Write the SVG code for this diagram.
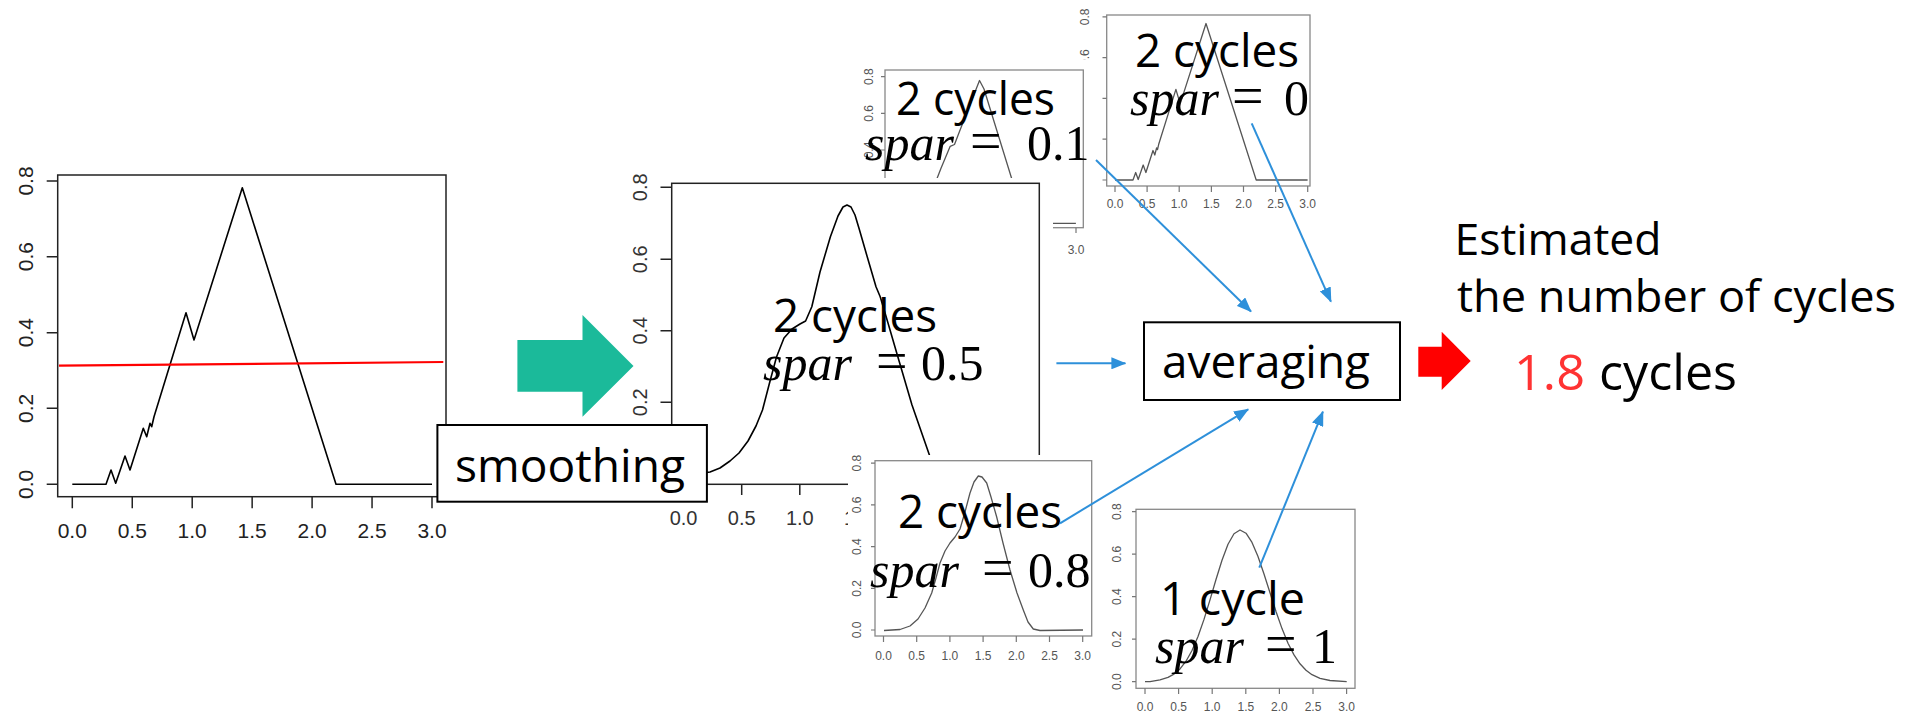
<svg xmlns="http://www.w3.org/2000/svg" width="1917" height="714" viewBox="0 0 1917 714">
<defs>
<style>
.bg{fill:#fff;stroke:none}
.box{fill:none;stroke:#222;stroke-width:1.5}
.sbox{fill:none;stroke:#888;stroke-width:1.3}
.tk{fill:none;stroke:#222;stroke-width:1.5}
.stk{fill:none;stroke:#777;stroke-width:1.2}
.crv{fill:none;stroke:#000;stroke-width:1.6;stroke-linejoin:round}
.scrv{fill:none;stroke:#555;stroke-width:1.3;stroke-linejoin:round}
.tl{font-family:"Liberation Sans",Arial,sans-serif;font-size:21px;fill:#222;text-anchor:middle}
.tm{font-family:"Liberation Sans",Arial,sans-serif;font-size:20px;fill:#333;text-anchor:middle}
.ts{font-family:"Liberation Sans",Arial,sans-serif;font-size:12px;fill:#555;text-anchor:middle}
.lbl{font-family:"Open Sans","Noto Sans",sans-serif;font-size:45px;fill:#000}
.big{font-size:50px}
.mid{font-size:44px}
.red{fill:#ff3333}
.math{font-family:"Liberation Serif","DejaVu Serif",serif;font-size:50px;fill:#000}
.it{font-style:italic}
.eq{font-size:56px}
.node{fill:#fff;stroke:#000;stroke-width:2}
.conn{fill:none;stroke:#2E90DA;stroke-width:2}
</style>
<marker id="ah" markerWidth="15" markerHeight="12" refX="14" refY="6" orient="auto" markerUnits="userSpaceOnUse">
<path d="M0,0 L15,6 L0,12 z" fill="#2E90DA"/>
</marker>
</defs>

<!-- Raw data plot -->
<g id="plot-raw">
<rect class="box" x="57.7" y="175" width="388.3" height="321.7"/>
<path class="tk" d="M46.7,181H57.7M46.7,256.7H57.7M46.7,332.7H57.7M46.7,408.3H57.7M46.7,484.3H57.7"/>
<path class="tk" d="M72.3,496.7V508.3M132.25,496.7V508.3M192.2,496.7V508.3M252.15,496.7V508.3M312.1,496.7V508.3M372.05,496.7V508.3M432,496.7V508.3"/>
<text class="tl" x="72.3" y="538.3">0.0</text>
<text class="tl" x="132.25" y="538.3">0.5</text>
<text class="tl" x="192.2" y="538.3">1.0</text>
<text class="tl" x="252.15" y="538.3">1.5</text>
<text class="tl" x="312.1" y="538.3">2.0</text>
<text class="tl" x="372.05" y="538.3">2.5</text>
<text class="tl" x="432" y="538.3">3.0</text>
<text class="tl" transform="translate(33,484.3) rotate(-90)">0.0</text>
<text class="tl" transform="translate(33,408.3) rotate(-90)">0.2</text>
<text class="tl" transform="translate(33,332.7) rotate(-90)">0.4</text>
<text class="tl" transform="translate(33,256.7) rotate(-90)">0.6</text>
<text class="tl" transform="translate(33,181) rotate(-90)">0.8</text>
<polyline class="crv" points="72.3,484.3 106,484.3 111,470 115.7,483.3 125,456 130,470 143.3,428.3 146.7,436.7 150,423.3 151.7,426.7 154,416.7 186,312.7 194,340 242.3,187.7 336,484.3 432,484.3"/>
<line x1="59" y1="365.7" x2="443.3" y2="362" stroke="#ff0000" stroke-width="2.2"/>
</g>

<!-- spar = 0 plot -->
<g id="plot-spar0">
<rect class="sbox" x="1106.7" y="15" width="203.3" height="171"/>
<path class="stk" d="M1115,186V192M1147.1,186V192M1179.2,186V192M1211.4,186V192M1243.5,186V192M1275.6,186V192M1307.7,186V192"/>
<path class="stk" d="M1102.5,180H1106.7M1102.5,139.2H1106.7M1102.5,98.4H1106.7M1102.5,57.6H1106.7M1102.5,16.8H1106.7"/>
<text class="ts" x="1115" y="207.5">0.0</text>
<text class="ts" x="1147.1" y="207.5">0.5</text>
<text class="ts" x="1179.2" y="207.5">1.0</text>
<text class="ts" x="1211.4" y="207.5">1.5</text>
<text class="ts" x="1243.5" y="207.5">2.0</text>
<text class="ts" x="1275.6" y="207.5">2.5</text>
<text class="ts" x="1307.7" y="207.5">3.0</text>
<text class="ts" transform="translate(1089,57.6) rotate(-90)">0.6</text>
<text class="ts" transform="translate(1089,16.8) rotate(-90)">0.8</text>
<polyline class="scrv" points="1115,180 1133,180 1135.7,172.5 1138.2,179.5 1143.2,165 1145.9,172.5 1153,150.5 1154.8,155 1156.6,147.8 1157.5,149.6 1158.7,144.3 1175.9,89.4 1180.2,103.9 1206,23.5 1256.2,180 1307.6,180"/>
</g>

<!-- spar = 0.1 plot -->
<g id="plot-spar01">
<rect class="bg" x="858" y="60" width="237" height="202"/>
<rect class="sbox" x="885" y="70" width="198.3" height="157.7"/>
<path class="stk" d="M892,227.7V233M922.7,227.7V233M953.3,227.7V233M984,227.7V233M1014.7,227.7V233M1045.3,227.7V233M1076,227.7V233"/>
<path class="stk" d="M881,223.3H885M881,186.65H885M881,150H885M881,113.35H885M881,76.7H885"/>
<text class="ts" x="1076" y="254">3.0</text>
<text class="ts" transform="translate(872.5,150) rotate(-90)">0.4</text>
<text class="ts" transform="translate(872.5,113.35) rotate(-90)">0.6</text>
<text class="ts" transform="translate(872.5,76.7) rotate(-90)">0.8</text>
<polyline class="scrv" points="892,223.3 909.2,223.3 913.5,220.5 919.6,214.1 925.7,205 931.8,192.1 941,168.3 950.2,146.3 954.5,144.5 959.4,131.7 979.5,80.5 984,89 1023.8,217.8 1029.9,223.3 1075.9,223.3"/>
</g>

<!-- spar = 0.5 plot (main smoothed) -->
<g id="plot-spar05">
<rect class="bg" x="618" y="178" width="435" height="352"/>
<rect class="box" x="671.7" y="183.3" width="367.6" height="301" stroke-width="1.3"/>
<path class="tk" d="M683.6,484.3V495M741.7,484.3V495M799.8,484.3V495M857.9,484.3V495M916,484.3V495M974.1,484.3V495M1032.2,484.3V495"/>
<path class="tk" d="M660.5,474H671.7M660.5,402.3H671.7M660.5,330.7H671.7M660.5,259.3H671.7M660.5,187.3H671.7"/>
<text class="tm" x="683.6" y="525">0.0</text>
<text class="tm" x="741.7" y="525">0.5</text>
<text class="tm" x="799.8" y="525">1.0</text>
<text class="tm" x="857.9" y="525">1.5</text>
<text class="tm" transform="translate(647,402.3) rotate(-90)">0.2</text>
<text class="tm" transform="translate(647,330.7) rotate(-90)">0.4</text>
<text class="tm" transform="translate(647,259.3) rotate(-90)">0.6</text>
<text class="tm" transform="translate(647,187.3) rotate(-90)">0.8</text>
<polyline class="crv" stroke-width="1.3" points="683.6,474 700,473.5 710,472 720,468 730,461 739,453 748,441 756,426 762.5,410 769,385 776.5,357 784,338 792,329 800,324 805.6,321 811.8,306.7 820,272 830.4,236.7 838,216 843,207 847,205 851,207 855,215 859.5,230 867,256 876,286.7 880.2,296.7 888,323 896.8,353.3 912,405 930,456.7 938,469 946,473.5 955,474 1032,474"/>
</g>

<!-- spar = 0.8 plot -->
<g id="plot-spar08">
<rect class="bg" x="848" y="455" width="252" height="215"/>
<rect class="sbox" x="875" y="460.7" width="216.7" height="175.3"/>
<path class="stk" d="M883.5,636V642M916.7,636V642M949.9,636V642M983.1,636V642M1016.3,636V642M1049.5,636V642M1082.7,636V642"/>
<path class="stk" d="M871,630H875M871,588.3H875M871,546.6H875M871,504.9H875M871,463.2H875"/>
<text class="ts" x="883.5" y="660">0.0</text>
<text class="ts" x="916.7" y="660">0.5</text>
<text class="ts" x="949.9" y="660">1.0</text>
<text class="ts" x="983.1" y="660">1.5</text>
<text class="ts" x="1016.3" y="660">2.0</text>
<text class="ts" x="1049.5" y="660">2.5</text>
<text class="ts" x="1082.7" y="660">3.0</text>
<text class="ts" transform="translate(861,630) rotate(-90)">0.0</text>
<text class="ts" transform="translate(861,588.3) rotate(-90)">0.2</text>
<text class="ts" transform="translate(861,546.6) rotate(-90)">0.4</text>
<text class="ts" transform="translate(861,504.9) rotate(-90)">0.6</text>
<text class="ts" transform="translate(861,463.2) rotate(-90)">0.8</text>
<polyline class="scrv" points="884,630.5 900,629.5 910,626 918,619 925,608 931.7,593 936,578 940,563 945,551 950,543 955,537 960,529 965,512 970,493 974,482 978.3,476 982,477 986.7,483 991,497 996.7,517 1003,543 1010,570 1017,593 1023.3,610 1028,622 1033.3,629 1040,630.5 1083,630"/>
</g>

<!-- spar = 1 plot -->
<g id="plot-spar1">
<rect class="bg" x="1103" y="500" width="262" height="214"/>
<rect class="sbox" x="1136" y="509.3" width="219" height="179"/>
<path class="stk" d="M1145,688.3V694M1178.6,688.3V694M1212.2,688.3V694M1245.8,688.3V694M1279.4,688.3V694M1313,688.3V694M1346.6,688.3V694"/>
<path class="stk" d="M1132,681.7H1136M1132,639.2H1136M1132,596.7H1136M1132,554.2H1136M1132,511.7H1136"/>
<text class="ts" x="1145" y="711">0.0</text>
<text class="ts" x="1178.6" y="711">0.5</text>
<text class="ts" x="1212.2" y="711">1.0</text>
<text class="ts" x="1245.8" y="711">1.5</text>
<text class="ts" x="1279.4" y="711">2.0</text>
<text class="ts" x="1313" y="711">2.5</text>
<text class="ts" x="1346.6" y="711">3.0</text>
<text class="ts" transform="translate(1121,681.7) rotate(-90)">0.0</text>
<text class="ts" transform="translate(1121,639.2) rotate(-90)">0.2</text>
<text class="ts" transform="translate(1121,596.7) rotate(-90)">0.4</text>
<text class="ts" transform="translate(1121,554.2) rotate(-90)">0.6</text>
<text class="ts" transform="translate(1121,511.7) rotate(-90)">0.8</text>
<polyline class="scrv" points="1145,681.7 1150,681.6 1160,679.8 1168,677.4 1174,674.1 1180,668.9 1186,661.2 1192,650.5 1198,636.5 1204,619.4 1210,599.9 1216,579.5 1222,560.2 1228,544.3 1234,533.7 1240,530 1246,533.2 1252,542.4 1258,556.5 1264,574 1270,592.8 1276,611.5 1282,628.6 1288,643.2 1294,654.9 1300,663.8 1306,670.3 1312,674.7 1320,678.4 1330,680.5 1346.7,681.7"/>
</g>

<!-- smoothing node -->
<g id="node-smoothing">
<rect class="node" x="437.4" y="425" width="269.5" height="76.7"/>
<text class="lbl" x="455" y="481.7" textLength="230" lengthAdjust="spacingAndGlyphs">smoothing</text>
</g>

<!-- green arrow -->
<g id="arrow-smooth">
<polygon points="517.4,340 582.5,340 582.5,315 633.5,366 582.5,416.7 582.5,391.7 517.4,391.7" fill="#1BBA9A"/>
</g>

<!-- plot labels -->
<g id="label-spar05">
<text class="lbl" x="773" y="331.7" textLength="164" lengthAdjust="spacingAndGlyphs">2 cycles</text>
<text class="math" y="380"><tspan class="it" x="763">spar</tspan><tspan class="eq" x="876">=</tspan><tspan x="921">0.5</tspan></text>
</g>
<g id="label-spar01">
<text class="lbl" x="896" y="115" textLength="159" lengthAdjust="spacingAndGlyphs">2 cycles</text>
<text class="math" y="160"><tspan class="it" x="865">spar</tspan><tspan class="eq" x="970">=</tspan><tspan x="1027">0.1</tspan></text>
</g>
<g id="label-spar0">
<text class="lbl" x="1135" y="66.7" textLength="164" lengthAdjust="spacingAndGlyphs">2 cycles</text>
<text class="math" y="115"><tspan class="it" x="1130">spar</tspan><tspan class="eq" x="1232">=</tspan><tspan x="1284">0</tspan></text>
</g>
<g id="label-spar08">
<text class="lbl" x="898" y="528.3" textLength="164" lengthAdjust="spacingAndGlyphs">2 cycles</text>
<text class="math" y="586.7"><tspan class="it" x="870">spar</tspan><tspan class="eq" x="982">=</tspan><tspan x="1028">0.8</tspan></text>
</g>
<g id="label-spar1">
<text class="lbl" x="1160" y="615" textLength="145" lengthAdjust="spacingAndGlyphs">1 cycle</text>
<text class="math" y="663.3"><tspan class="it" x="1155">spar</tspan><tspan class="eq" x="1265">=</tspan><tspan x="1312">1</tspan></text>
</g>

<!-- connectors -->
<g id="connectors">
<line class="conn" x1="1096" y1="160" x2="1251" y2="311.5" marker-end="url(#ah)"/>
<line class="conn" x1="1251.7" y1="123.3" x2="1330.9" y2="301.7" marker-end="url(#ah)"/>
<line class="conn" x1="1056.4" y1="363.3" x2="1125.4" y2="363.3" marker-end="url(#ah)"/>
<line class="conn" x1="1060" y1="523.3" x2="1248.2" y2="409.3" marker-end="url(#ah)"/>
<line class="conn" x1="1259.3" y1="567.7" x2="1322.9" y2="411.7" marker-end="url(#ah)"/>
</g>

<!-- averaging node -->
<g id="node-averaging">
<rect class="node" x="1144" y="322.3" width="256" height="77.7"/>
<text class="lbl" x="1162" y="378.3" textLength="208" lengthAdjust="spacingAndGlyphs">averaging</text>
</g>

<!-- red arrow -->
<g id="arrow-result">
<polygon points="1418.3,346.7 1441.7,346.7 1441.7,331.7 1470.7,361 1441.7,390 1441.7,376.7 1418.3,376.7" fill="#ff0000"/>
</g>

<!-- result -->
<g id="node-result">
<text class="lbl mid" x="1454.5" y="255" textLength="207" lengthAdjust="spacingAndGlyphs">Estimated</text>
<text class="lbl mid" x="1457" y="311.7" textLength="439" lengthAdjust="spacingAndGlyphs">the number of cycles</text>
<text class="lbl big red" x="1514" y="390" textLength="71" lengthAdjust="spacingAndGlyphs">1.8</text>
<text class="lbl big" x="1599" y="390" textLength="138" lengthAdjust="spacingAndGlyphs">cycles</text>
</g>
</svg>
